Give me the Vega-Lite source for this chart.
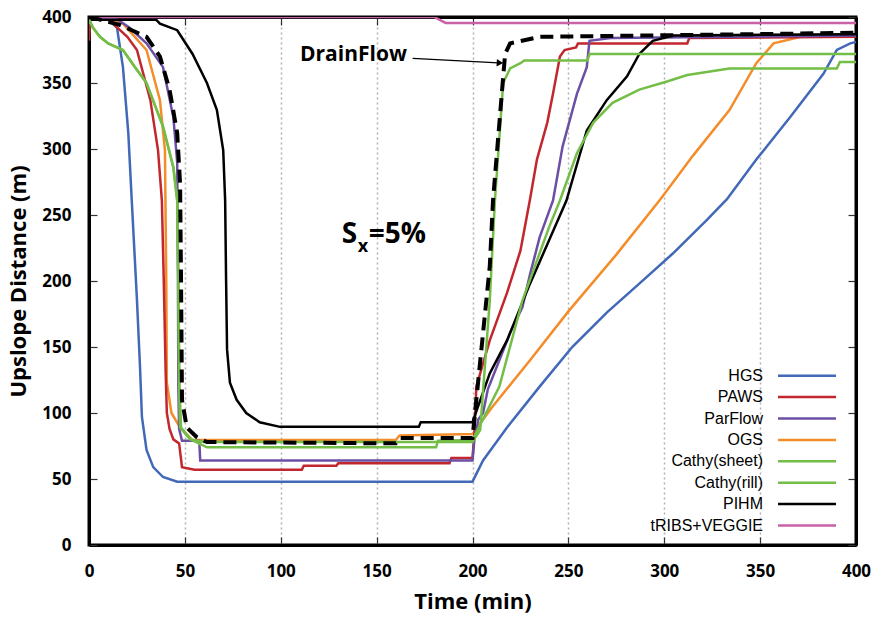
{
  "$schema": "https://vega.github.io/schema/vega-lite/v6.json",
  "width": 767,
  "height": 528,
  "autosize": "none",
  "padding": {"left": 89, "top": 17, "right": 19, "bottom": 76},
  "background": "white",
  "datasets": {
    "models": [
      {"m":"HGS","t":0,"d":400},{"m":"HGS","t":10,"d":398},{"m":"HGS","t":14.6,"d":392},{"m":"HGS","t":17.7,"d":362},{"m":"HGS","t":20.5,"d":312},{"m":"HGS","t":22.3,"d":261},{"m":"HGS","t":25,"d":186},{"m":"HGS","t":26.6,"d":135},{"m":"HGS","t":27.6,"d":97},{"m":"HGS","t":30,"d":72},{"m":"HGS","t":33.5,"d":59},{"m":"HGS","t":38.6,"d":51.5},{"m":"HGS","t":46,"d":48},{"m":"HGS","t":200,"d":48},{"m":"HGS","t":205.5,"d":64},{"m":"HGS","t":218,"d":89},{"m":"HGS","t":235,"d":120},{"m":"HGS","t":252,"d":150},{"m":"HGS","t":270,"d":176},{"m":"HGS","t":287,"d":198},{"m":"HGS","t":304.6,"d":221},{"m":"HGS","t":322,"d":246},{"m":"HGS","t":332.7,"d":262},{"m":"HGS","t":348,"d":292},{"m":"HGS","t":365.6,"d":324},{"m":"HGS","t":383,"d":357},{"m":"HGS","t":390,"d":375},{"m":"HGS","t":397,"d":380},{"m":"HGS","t":400,"d":381},
      {"m":"OGS","t":0,"d":400},{"m":"OGS","t":12,"d":398},{"m":"OGS","t":17.7,"d":395},{"m":"OGS","t":30,"d":375},{"m":"OGS","t":37,"d":337},{"m":"OGS","t":39.6,"d":299},{"m":"OGS","t":40.3,"d":200},{"m":"OGS","t":40.6,"d":123},{"m":"OGS","t":43,"d":100},{"m":"OGS","t":47.5,"d":89},{"m":"OGS","t":54,"d":79.5},{"m":"OGS","t":160,"d":79.5},{"m":"OGS","t":162,"d":83},{"m":"OGS","t":200,"d":84},{"m":"OGS","t":210,"d":104},{"m":"OGS","t":230,"d":140},{"m":"OGS","t":250,"d":177},{"m":"OGS","t":275,"d":220},{"m":"OGS","t":298,"d":262},{"m":"OGS","t":315,"d":295},{"m":"OGS","t":334,"d":329.5},{"m":"OGS","t":348,"d":365},{"m":"OGS","t":357,"d":380},{"m":"OGS","t":374,"d":386},{"m":"OGS","t":400,"d":387},
      {"m":"PAWS","t":0,"d":382},{"m":"PAWS","t":0.5,"d":398},{"m":"PAWS","t":10,"d":398},{"m":"PAWS","t":12.5,"d":395},{"m":"PAWS","t":20,"d":385},{"m":"PAWS","t":25,"d":375},{"m":"PAWS","t":32,"d":337},{"m":"PAWS","t":36,"d":299},{"m":"PAWS","t":38,"d":261},{"m":"PAWS","t":39,"d":200},{"m":"PAWS","t":40,"d":130},{"m":"PAWS","t":40.6,"d":100},{"m":"PAWS","t":42,"d":88},{"m":"PAWS","t":44,"d":80},{"m":"PAWS","t":47,"d":77},{"m":"PAWS","t":48.5,"d":59},{"m":"PAWS","t":55,"d":57},{"m":"PAWS","t":111,"d":57},{"m":"PAWS","t":112,"d":60},{"m":"PAWS","t":129,"d":60},{"m":"PAWS","t":130,"d":62},{"m":"PAWS","t":188,"d":62},{"m":"PAWS","t":189,"d":66},{"m":"PAWS","t":200,"d":66},{"m":"PAWS","t":201,"d":85},{"m":"PAWS","t":202,"d":120},{"m":"PAWS","t":209,"d":155},{"m":"PAWS","t":218,"d":191},{"m":"PAWS","t":225,"d":223},{"m":"PAWS","t":230,"d":262},{"m":"PAWS","t":233.6,"d":292},{"m":"PAWS","t":239,"d":320},{"m":"PAWS","t":242,"d":342},{"m":"PAWS","t":245.6,"d":370},{"m":"PAWS","t":248,"d":375},{"m":"PAWS","t":254,"d":377},{"m":"PAWS","t":255,"d":380},{"m":"PAWS","t":312,"d":380},{"m":"PAWS","t":313,"d":384},{"m":"PAWS","t":400,"d":385},
      {"m":"ParFlow","t":0,"d":400},{"m":"ParFlow","t":15,"d":398},{"m":"ParFlow","t":21,"d":392},{"m":"ParFlow","t":30,"d":380},{"m":"ParFlow","t":38.6,"d":362},{"m":"ParFlow","t":44,"d":324},{"m":"ParFlow","t":46,"d":290},{"m":"ParFlow","t":46.4,"d":200},{"m":"ParFlow","t":46.6,"d":120},{"m":"ParFlow","t":47,"d":88},{"m":"ParFlow","t":48.5,"d":79},{"m":"ParFlow","t":57.5,"d":79},{"m":"ParFlow","t":58,"d":64},{"m":"ParFlow","t":200,"d":64},{"m":"ParFlow","t":201,"d":80},{"m":"ParFlow","t":203,"d":95},{"m":"ParFlow","t":205.5,"d":100},{"m":"ParFlow","t":208,"d":118},{"m":"ParFlow","t":214,"d":140},{"m":"ParFlow","t":220,"d":162},{"m":"ParFlow","t":226,"d":180},{"m":"ParFlow","t":230,"d":205},{"m":"ParFlow","t":235,"d":233},{"m":"ParFlow","t":242,"d":261},{"m":"ParFlow","t":247,"d":302},{"m":"ParFlow","t":254.5,"d":342},{"m":"ParFlow","t":259.6,"d":362},{"m":"ParFlow","t":261,"d":382},{"m":"ParFlow","t":272,"d":384},{"m":"ParFlow","t":400,"d":386},
      {"m":"PIHM","t":0,"d":398},{"m":"PIHM","t":35,"d":398},{"m":"PIHM","t":37,"d":395},{"m":"PIHM","t":46,"d":390},{"m":"PIHM","t":54,"d":372},{"m":"PIHM","t":61.5,"d":350},{"m":"PIHM","t":66.7,"d":329.5},{"m":"PIHM","t":70,"d":299},{"m":"PIHM","t":71,"d":261},{"m":"PIHM","t":71.5,"d":200},{"m":"PIHM","t":72,"d":148},{"m":"PIHM","t":73.5,"d":123},{"m":"PIHM","t":77,"d":110},{"m":"PIHM","t":82,"d":100},{"m":"PIHM","t":89,"d":93},{"m":"PIHM","t":99.6,"d":89.5},{"m":"PIHM","t":172,"d":89.5},{"m":"PIHM","t":173,"d":93},{"m":"PIHM","t":200,"d":93},{"m":"PIHM","t":209,"d":130},{"m":"PIHM","t":218,"d":155},{"m":"PIHM","t":230,"d":198},{"m":"PIHM","t":240,"d":231},{"m":"PIHM","t":249,"d":261},{"m":"PIHM","t":259.6,"d":314},{"m":"PIHM","t":270,"d":337},{"m":"PIHM","t":280.6,"d":355},{"m":"PIHM","t":287,"d":372},{"m":"PIHM","t":294,"d":382},{"m":"PIHM","t":304.6,"d":386},{"m":"PIHM","t":400,"d":387},
      {"m":"Cathy(rill)","t":0,"d":398},{"m":"Cathy(rill)","t":2,"d":392},{"m":"Cathy(rill)","t":5.7,"d":385},{"m":"Cathy(rill)","t":10,"d":380},{"m":"Cathy(rill)","t":17.7,"d":375},{"m":"Cathy(rill)","t":24,"d":362},{"m":"Cathy(rill)","t":30,"d":350},{"m":"Cathy(rill)","t":38.6,"d":317},{"m":"Cathy(rill)","t":44,"d":286},{"m":"Cathy(rill)","t":46,"d":261},{"m":"Cathy(rill)","t":46.6,"d":200},{"m":"Cathy(rill)","t":47.2,"d":120},{"m":"Cathy(rill)","t":48,"d":89},{"m":"Cathy(rill)","t":53,"d":80},{"m":"Cathy(rill)","t":61.5,"d":74},{"m":"Cathy(rill)","t":181,"d":74},{"m":"Cathy(rill)","t":182,"d":79},{"m":"Cathy(rill)","t":200,"d":79.5},{"m":"Cathy(rill)","t":214,"d":120},{"m":"Cathy(rill)","t":226,"d":185},{"m":"Cathy(rill)","t":240,"d":241},{"m":"Cathy(rill)","t":245.6,"d":261},{"m":"Cathy(rill)","t":254.5,"d":297},{"m":"Cathy(rill)","t":263,"d":320},{"m":"Cathy(rill)","t":273,"d":335},{"m":"Cathy(rill)","t":287,"d":345},{"m":"Cathy(rill)","t":301,"d":351},{"m":"Cathy(rill)","t":312,"d":356},{"m":"Cathy(rill)","t":334,"d":361},{"m":"Cathy(rill)","t":390,"d":361},{"m":"Cathy(rill)","t":391.6,"d":366},{"m":"Cathy(rill)","t":400,"d":366},
      {"m":"Cathy(sheet)","t":0,"d":398},{"m":"Cathy(sheet)","t":2,"d":392},{"m":"Cathy(sheet)","t":5.7,"d":385},{"m":"Cathy(sheet)","t":10,"d":380},{"m":"Cathy(sheet)","t":17.7,"d":375},{"m":"Cathy(sheet)","t":24,"d":362},{"m":"Cathy(sheet)","t":30,"d":350},{"m":"Cathy(sheet)","t":38.6,"d":317},{"m":"Cathy(sheet)","t":44,"d":286},{"m":"Cathy(sheet)","t":46,"d":261},{"m":"Cathy(sheet)","t":46.6,"d":200},{"m":"Cathy(sheet)","t":47,"d":120},{"m":"Cathy(sheet)","t":47.5,"d":89},{"m":"Cathy(sheet)","t":52.7,"d":80},{"m":"Cathy(sheet)","t":60,"d":78},{"m":"Cathy(sheet)","t":200,"d":78},{"m":"Cathy(sheet)","t":204,"d":87},{"m":"Cathy(sheet)","t":209,"d":185},{"m":"Cathy(sheet)","t":211.7,"d":261},{"m":"Cathy(sheet)","t":216,"d":350},{"m":"Cathy(sheet)","t":219.6,"d":361},{"m":"Cathy(sheet)","t":225,"d":365},{"m":"Cathy(sheet)","t":227,"d":367},{"m":"Cathy(sheet)","t":260,"d":367},{"m":"Cathy(sheet)","t":261,"d":372},{"m":"Cathy(sheet)","t":400,"d":372},
      {"m":"tRIBS+VEGGIE","t":0,"d":400},{"m":"tRIBS+VEGGIE","t":180,"d":400},{"m":"tRIBS+VEGGIE","t":186,"d":395.5},{"m":"tRIBS+VEGGIE","t":400,"d":395.5}
    ],
    "drainflow": [
      {"t":0,"d":400},{"t":5.7,"d":398},{"t":16,"d":394},{"t":30,"d":385},{"t":37,"d":370},{"t":42,"d":345},{"t":46,"d":312},{"t":47.5,"d":274},{"t":48,"d":200},{"t":48.5,"d":110},{"t":51,"d":89},{"t":56,"d":82},{"t":61.5,"d":78},{"t":160,"d":77},{"t":162,"d":81},{"t":200,"d":81},{"t":202,"d":110},{"t":209,"d":211},{"t":210.7,"d":261},{"t":215,"d":337},{"t":217,"d":372},{"t":219.6,"d":380},{"t":235,"d":385},{"t":400,"d":388}
    ],
    "one": [{}]
  },
  "layer": [
    {
      "data": {"name": "models"},
      "mark": {"type": "line", "strokeWidth": 2.5, "clip": true},
      "encoding": {
        "x": {"field": "t", "type": "quantitative", "scale": {"domain": [0, 400], "nice": false, "zero": false},
          "axis": {"orient": "bottom", "values": [0,50,100,150,200,250,300,350,400], "title": "Time (min)", "grid": true, "gridDash": [2,3], "gridColor": "#b0b0b0", "gridWidth": 1.5, "tickSize": -8, "labelPadding": 26, "titlePadding": 12}},
        "y": {"field": "d", "type": "quantitative", "scale": {"domain": [0, 400], "nice": false, "zero": false},
          "axis": {"orient": "left", "values": [0,50,100,150,200,250,300,350,400], "title": "Upslope Distance (m)", "grid": false, "tickSize": -8, "labelPadding": 26, "titlePadding": 11}},
        "color": {"field": "m", "type": "nominal",
          "scale": {"domain": ["HGS","PAWS","ParFlow","OGS","Cathy(sheet)","Cathy(rill)","PIHM","tRIBS+VEGGIE"],
                    "range": ["#4169b8","#c1272d","#6b4fa5","#f48c2a","#74be47","#74be47","#000000","#c861a6"]},
          "legend": {"title": null, "orient": "none", "legendX": 709.5, "legendY": 350.2, "symbolType": "M-4.14,0H4.14", "symbolSize": 196, "symbolStrokeWidth": 2.5, "labelAlign": "right", "labelOffset": -52.5, "labelFont": "Liberation Sans", "labelFontSize": 16, "labelColor": "black", "rowPadding": 4.4, "padding": 0, "labelLimit": 250}}
      }
    },
    {
      "data": {"name": "drainflow"},
      "mark": {"type": "line", "stroke": "black", "strokeWidth": 4, "strokeDash": [13, 7], "clip": true},
      "encoding": {
        "x": {"field": "t", "type": "quantitative", "axis": {"orient": "top", "values": [0,50,100,150,200,250,300,350,400], "labels": false, "title": null, "grid": false, "tickSize": -8}},
        "y": {"field": "d", "type": "quantitative", "axis": {"orient": "right", "values": [0,50,100,150,200,250,300,350,400], "labels": false, "title": null, "grid": false, "tickSize": -8}}
      }
    },
    {
      "data": {"name": "one"},
      "mark": {"type": "rule", "stroke": "black", "strokeWidth": 1.3},
      "encoding": {
        "x": {"datum": 168.8, "type": "quantitative", "axis": null},
        "y": {"datum": 368.7, "type": "quantitative", "axis": null},
        "x2": {"datum": 213.5},
        "y2": {"datum": 365.3}
      }
    },
    {
      "data": {"name": "one"},
      "mark": {"type": "point", "shape": "triangle-right", "filled": true, "color": "black", "size": 55, "opacity": 1, "angle": 3},
      "encoding": {
        "x": {"datum": 214.3, "type": "quantitative", "axis": null},
        "y": {"datum": 365.2, "type": "quantitative", "axis": null}
      }
    },
    {
      "data": {"name": "one"},
      "mark": {"type": "text", "text": "DrainFlow", "align": "right", "baseline": "middle", "font": "Open Sans", "fontWeight": "bold", "fontSize": 21, "color": "black"},
      "encoding": {
        "x": {"datum": 165.8, "type": "quantitative", "axis": null},
        "y": {"datum": 371.2, "type": "quantitative", "axis": null}
      }
    },
    {
      "data": {"name": "one"},
      "mark": {"type": "text", "text": "S", "align": "left", "baseline": "alphabetic", "font": "Open Sans", "fontWeight": "bold", "fontSize": 28, "color": "black"},
      "encoding": {
        "x": {"datum": 131.8, "type": "quantitative", "axis": null},
        "y": {"datum": 228.8, "type": "quantitative", "axis": null}
      }
    },
    {
      "data": {"name": "one"},
      "mark": {"type": "text", "text": "x", "align": "left", "baseline": "alphabetic", "font": "Open Sans", "fontWeight": "bold", "fontSize": 18, "color": "black", "dx": 16, "dy": 9},
      "encoding": {
        "x": {"datum": 131.8, "type": "quantitative", "axis": null},
        "y": {"datum": 228.8, "type": "quantitative", "axis": null}
      }
    },
    {
      "data": {"name": "one"},
      "mark": {"type": "text", "text": "=5%", "align": "left", "baseline": "alphabetic", "font": "Open Sans", "fontWeight": "bold", "fontSize": 28, "color": "black", "dx": 27},
      "encoding": {
        "x": {"datum": 131.8, "type": "quantitative", "axis": null},
        "y": {"datum": 228.8, "type": "quantitative", "axis": null}
      }
    }
  ],
  "resolve": {"axis": {"x": "independent", "y": "independent"}},
  "config": {
    "view": {"stroke": "black", "strokeWidth": 3},
    "axis": {
      "labelFont": "Open Sans", "labelFontSize": 17, "labelFontWeight": "bold", "labelColor": "black",
      "titleFont": "Open Sans", "titleFontSize": 22, "titleFontWeight": "bold", "titleColor": "black",
      "domainColor": "black", "domainWidth": 3, "tickColor": "#333333", "tickWidth": 1.2,
      "labelFlush": false, "labelOverlap": false
    }
  }
}
